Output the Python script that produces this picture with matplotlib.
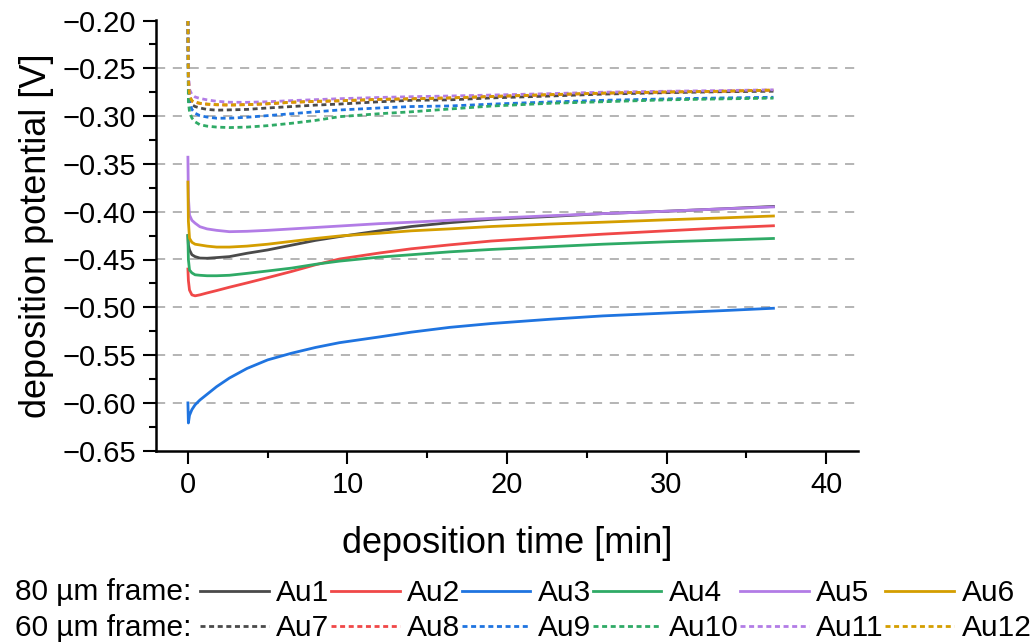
import matplotlib
matplotlib.use("Agg")
import matplotlib.pyplot as plt
from matplotlib.ticker import MultipleLocator, FuncFormatter

plt.rcParams['font.family'] = ['Liberation Sans', 'DejaVu Sans']

# deposition time [min]
time = [0, 0.03, 0.1, 0.25, 0.45, 0.75, 1.2, 1.8, 2.6, 3.7, 5, 6.5, 8, 9.5,
        12, 14, 16.4, 19, 22.7, 26, 30, 33.5, 36.7]

# 80 um frame, deposition potential [V]
au1 = [-0.425, -0.435, -0.440, -0.445, -0.447, -0.4485, -0.4487, -0.448, -0.447, -0.4435,
       -0.440, -0.435, -0.430, -0.426, -0.420, -0.4155, -0.4115, -0.408, -0.405, -0.402,
       -0.3995, -0.397, -0.3945]
au2 = [-0.460, -0.472, -0.482, -0.487, -0.488, -0.487, -0.485, -0.4825, -0.479, -0.4745,
       -0.469, -0.4625, -0.4555, -0.4495, -0.4432, -0.4388, -0.4347, -0.4307, -0.4268, -0.4235,
       -0.420, -0.417, -0.4147]
au3 = [-0.600, -0.621, -0.613, -0.607, -0.602, -0.597, -0.591, -0.583, -0.574, -0.564,
       -0.555, -0.548, -0.542, -0.537, -0.531, -0.526, -0.521, -0.517, -0.5125, -0.509,
       -0.506, -0.5035, -0.501]
au4 = [-0.425, -0.450, -0.461, -0.464, -0.466, -0.4665, -0.467, -0.467, -0.4665, -0.4645,
       -0.462, -0.459, -0.455, -0.4517, -0.4475, -0.445, -0.442, -0.4395, -0.4366, -0.434,
       -0.4315, -0.4297, -0.428]
au5 = [-0.343, -0.385, -0.4035, -0.409, -0.412, -0.4157, -0.418, -0.4195, -0.4209, -0.4205,
       -0.4195, -0.418, -0.4165, -0.415, -0.4125, -0.411, -0.409, -0.407, -0.4042, -0.402,
       -0.3995, -0.397, -0.395]
au6 = [-0.369, -0.410, -0.4278, -0.432, -0.434, -0.4348, -0.436, -0.437, -0.437, -0.436,
       -0.434, -0.431, -0.428, -0.4254, -0.4225, -0.420, -0.418, -0.4155, -0.4129, -0.411,
       -0.4085, -0.4065, -0.4045]

# 60 um frame, deposition potential [V]
au7 = [-0.200, -0.265, -0.283, -0.288, -0.290, -0.2915, -0.293, -0.2938, -0.2935, -0.293,
       -0.2915, -0.290, -0.2885, -0.2874, -0.285, -0.2835, -0.283, -0.281, -0.279, -0.277,
       -0.2755, -0.2745, -0.274]
au8 = [-0.200, -0.260, -0.279, -0.2842, -0.2855, -0.2867, -0.2875, -0.2882, -0.2884, -0.288,
       -0.2872, -0.2855, -0.2847, -0.284, -0.2825, -0.2818, -0.281, -0.2795, -0.2777, -0.276,
       -0.2748, -0.274, -0.2728]
au9 = [-0.200, -0.272, -0.285, -0.293, -0.297, -0.2995, -0.301, -0.3022, -0.3022, -0.3012,
       -0.2995, -0.2975, -0.2955, -0.2936, -0.2915, -0.290, -0.2894, -0.2875, -0.2852, -0.2835,
       -0.282, -0.281, -0.2803]
au10 = [-0.200, -0.285, -0.2954, -0.302, -0.306, -0.309, -0.3105, -0.3115, -0.312, -0.3115,
        -0.310, -0.3075, -0.3045, -0.3006, -0.2975, -0.2955, -0.2926, -0.2895, -0.2866, -0.285,
        -0.283, -0.282, -0.2812]
au11 = [-0.200, -0.255, -0.272, -0.2775, -0.280, -0.2815, -0.283, -0.2845, -0.2855, -0.2856,
        -0.285, -0.2838, -0.2828, -0.2818, -0.2805, -0.2797, -0.279, -0.278, -0.2765, -0.275,
        -0.274, -0.2733, -0.2725]
au12 = [-0.200, -0.260, -0.279, -0.284, -0.2855, -0.2865, -0.2875, -0.288, -0.2884, -0.288,
        -0.287, -0.2855, -0.2845, -0.284, -0.2825, -0.282, -0.281, -0.2795, -0.2775, -0.276,
        -0.2748, -0.274, -0.2728]

labels_80 = ["Au1", "Au2", "Au3", "Au4", "Au5", "Au6"]
labels_60 = ["Au7", "Au8", "Au9", "Au10", "Au11", "Au12"]
series_80 = [au1, au2, au3, au4, au5, au6]
series_60 = [au7, au8, au9, au10, au11, au12]
colors = ["#4a4a4a", "#f04848", "#1f74e0", "#2faa66", "#b27ce6", "#d49e00"]

W, H = 1030, 643
fig = plt.figure(figsize=(W / 100, H / 100), dpi=100)
ax = fig.add_axes([156 / W, 1 - 450.7 / H, (858 - 156) / W, (450.7 - 20.5) / H])

# horizontal reference lines at the inner major ticks
for yv in [-0.25, -0.30, -0.35, -0.40, -0.45, -0.50, -0.55, -0.60]:
    ax.axhline(yv, color="#a0a0a0", lw=1.1, ls=(0, (6, 5)), zorder=0)

lines_80, lines_60 = [], []
for vals, lab, c in zip(series_80, labels_80, colors):
    l, = ax.plot(time, vals, color=c, lw=2.0, label=lab, solid_joinstyle="round")
    lines_80.append(l)
for vals, lab, c in zip(series_60, labels_60, colors):
    l, = ax.plot(time, vals, color=c, lw=2.0, ls=(0, (1.8, 1.3)), label=lab)
    lines_60.append(l)

ax.set_xlim(-2, 42)
ax.set_ylim(-0.65, -0.20)
ax.xaxis.set_major_locator(MultipleLocator(10))
ax.xaxis.set_minor_locator(MultipleLocator(5))
ax.yaxis.set_major_locator(MultipleLocator(0.05))
ax.yaxis.set_minor_locator(MultipleLocator(0.025))
ax.yaxis.set_major_formatter(FuncFormatter(lambda v, p: f"{v:.2f}".replace("-", "\u2212")))

for s in ["top", "right"]:
    ax.spines[s].set_visible(False)
for s in ["left", "bottom"]:
    ax.spines[s].set_linewidth(1.8)

ax.tick_params(which="major", direction="out", length=9.4, width=1.5, labelsize=21, pad=5)
ax.tick_params(which="minor", direction="out", length=5, width=1.5)

ax.set_xlabel("deposition time [min]", fontsize=26, labelpad=20)
ax.set_ylabel("deposition potential [V]", fontsize=26, labelpad=6)

# two-row legend: row captions as text, entries interleaved column-wise
handles, labs = [], []
for a, b in zip(lines_80, lines_60):
    handles += [a, b]
    labs += [a.get_label(), b.get_label()]
fig.legend(handles, labs, ncol=6, loc="upper left",
           bbox_to_anchor=(200 / W, 1 - 579 / H), frameon=False,
           fontsize=21.5, handlelength=2.3, handletextpad=0.25,
           columnspacing=0.05, labelspacing=0.24, borderpad=0, borderaxespad=0)
fig.text(15 / W, 1 - 592 / H, "80 \u00b5m frame:", fontsize=21.5, va="center", ha="left")
fig.text(15 / W, 1 - 628 / H, "60 \u00b5m frame:", fontsize=21.5, va="center", ha="left")

fig.savefig("out.png", dpi=100)
